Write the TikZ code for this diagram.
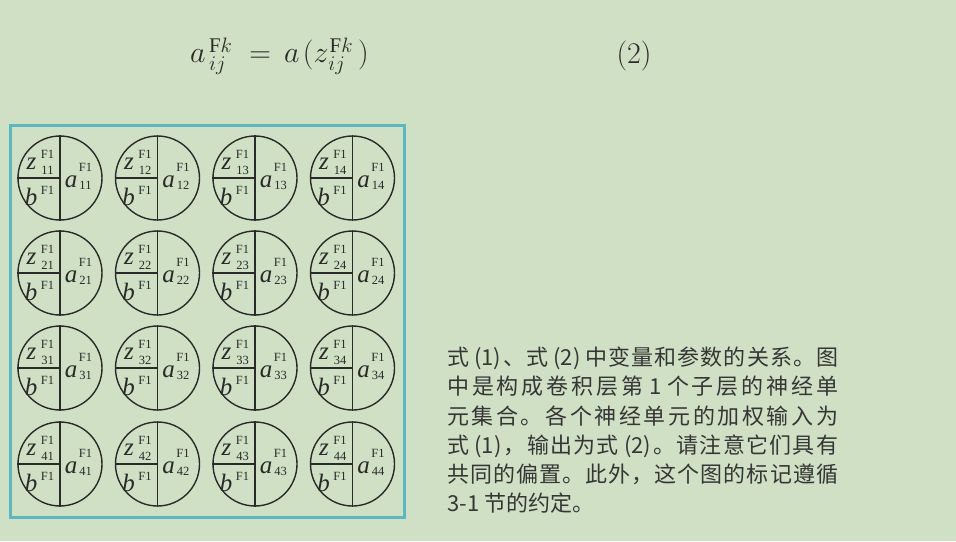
\documentclass[tikz,border=0pt]{standalone}
\usepackage{graphicx}
\usepackage{fontspec}
\setmainfont{Liberation Serif}
\newfontfamily\cjk{Noto Sans CJK SC}
\DeclareMathSizes{24.88}{24.88}{17.28}{12}
\definecolor{bg}{HTML}{CFE0C4}
\definecolor{boxc}{HTML}{5BB7C2}
\definecolor{ink}{HTML}{2A2A2A}
\definecolor{txt}{HTML}{363636}
\tikzset{
  cellc/.style={circle, draw=ink, line width=1.4pt, minimum size=84pt, inner sep=0pt},
  cline/.style={draw=ink, line width=1.4pt},
  big/.style={inner sep=0pt, text=ink, font=\fontsize{25}{25}\selectfont\itshape},
  small/.style={inner sep=0pt, text=ink, font=\fontsize{12.5}{12.5}\selectfont},
  cjkline/.style={anchor=base west, inner sep=0pt, text=txt, font=\fontsize{22}{22}\cjk},
  eqtext/.style={inner sep=0pt, text=ink, font=\fontsize{24.88}{30}\selectfont},
}
\newcommand\neuron[3]{%
  \begin{scope}[shift={(#1,#2)}]
    \node[cellc] (c#3) at (0,0) {};
    \draw[cline] (c#3.north) -- (c#3.south);
    \draw[cline] (c#3.west) -- (c#3.center);
    \node[big] (z#3) at (-28.5,-14) {z};
    \node[small] (zs#3) at (-12.5,-24) {F1};
    \node[small] (zi#3) at (-12.5,-8) {#3};
    \node[big] (b#3) at (-29,19) {b};
    \node[small] (bs#3) at (-12.5,12) {F1};
    \node[big] (a#3) at (11,4) {a};
    \node[small] (as#3) at (25.5,-11) {F1};
    \node[small] (ai#3) at (25.5,7) {#3};
  \end{scope}}
% spread the units of a line evenly across a box
\def\stopmark{\relax}
\def\spreadB#1{\def\spreadtmp{#1}\ifx\spreadtmp\stopmark\else\hskip0pt plus 1fil #1\expandafter\spreadB\fi}
\def\spread#1#2\relax{\hbox to 391pt{#1\spreadB#2\relax}}
\def\pn#1{\kern4pt(#1)\kern1pt}
\begin{document}
\begin{tikzpicture}[x=1pt,y=-1pt]
\fill[bg] (0,0) rectangle (956,541);
\useasboundingbox (0,0) rectangle (956,541);
\node[eqtext, anchor=west] (eq) at (190,56)
  {\scalebox{1.206}{$a^{\mkern3mu\mathrm{F}k}_{\mkern3mu ij}\;=\,a\mkern2mu(z^{\mkern1mu\mathrm{F}k}_{\mkern1mu ij}\,)$}};
\node[eqtext] (eqn) at (634,56) {\scalebox{1.206}{$(2)$}};
\node[draw=boxc, line width=2.5pt, minimum width=394pt, minimum height=392pt, inner sep=0pt, anchor=north west] (frame) at (9,124) {};
\foreach \r/\y in {1/178,2/273,3/368,4/464}{
  \foreach \c/\x in {1/60,2/157.5,3/255,4/352.5}{
    \neuron{\x}{\y}{\r\c}
  }}
\node[cjkline] (t1) at (447,365) {\spread 式{\pn1}、式{\pn2\kern3pt}中变量和参数的关系。图\relax};
\node[cjkline] (t2) at (447,394) {\spread 中是构成卷积层第{\kern3pt 1\kern3pt}个子层的神经单\relax};
\node[cjkline] (t3) at (447,424) {\spread 元集合。各个神经单元的加权输入为\relax};
\node[cjkline] (t4) at (447,453) {\spread 式{\pn1}，输出为式{\pn2}。请注意它们具有\relax};
\node[cjkline] (t5) at (447,482) {\spread 共同的偏置。此外，这个图的标记遵循\relax};
\node[cjkline] (t6) at (447,511) {3-1 节的约定。};
\end{tikzpicture}
\end{document}
